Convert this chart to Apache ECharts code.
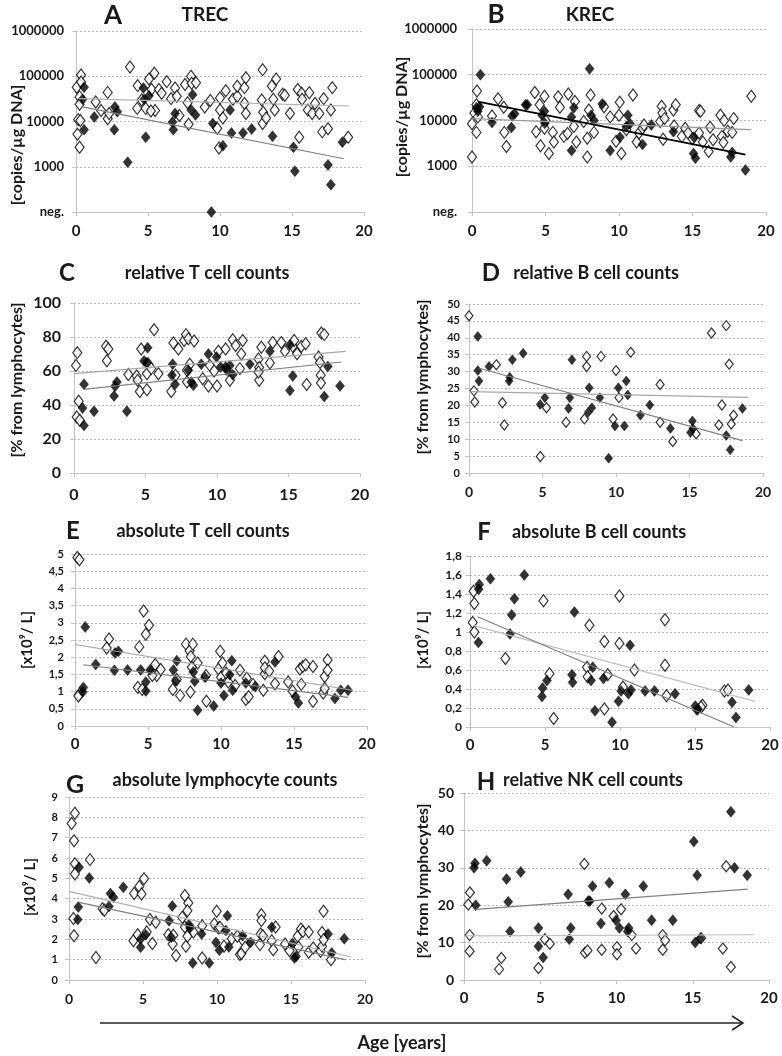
<!DOCTYPE html>
<html><head><meta charset="utf-8">
<script src="https://cdn.jsdelivr.net/npm/echarts@6/dist/echarts.min.js"></script>
<style>html,body{margin:0;padding:0;background:#fff}#c{width:782px;height:1056px}</style>
</head><body><div id="c"></div><script>
// ---------- DATA ----------
const xTicks = [0, 5, 10, 15, 20];
const negLabel = 'neg.';
const panelLetters = ['A','B','C','D','E','F','G','H'];
const panelTitles = ['TREC','KREC','relative T cell counts','relative B cell counts','absolute T cell counts','absolute B cell counts','absolute lymphocyte counts','relative NK cell counts'];
const yNames = ['[copies/µg DNA]','[copies/µg DNA]','[% from lymphocytes]','[% from lymphocytes]','[x10⁹/ L]','[x10⁹/ L]','[x10⁹/ L]','[% from lymphocytes]'];
const xAxisTitle = 'Age [years]';

// A: TREC (copies/µg DNA), 100 = "neg."
const openA = [[0.1,5200],[0.35,107000],[0.05,57000],[0.35,75000],[0.25,35000],[0.25,24000],[0.15,11000],[0.3,10500],[0.25,2700],[1.37,27000],[1.74,17500],[2.2,44000],[2.2,11500],[2.3,15000],[3.75,160000],[4.28,62000],[4.25,19500],[4.56,30000],[4.84,19500],[5.07,87000],[5.25,51000],[5.44,117000],[5.49,17500],[5.2,17000],[5.76,51000],[5.95,42000],[6.3,76000],[6.6,32000],[6.88,55000],[7.0,36000],[7.18,13500],[7.57,66000],[7.75,26000],[7.82,8700],[7.99,100000],[8.03,70000],[8.33,72000],[8.94,21000],[9.33,29000],[9.81,7100],[9.93,2600],[10.0,33000],[10.0,18000],[10.2,12000],[10.4,48000],[10.9,31000],[11.2,36000],[11.2,60000],[11.7,56000],[11.7,25000],[11.8,93000],[11.8,15000],[12.9,30000],[12.96,140000],[12.96,9000],[13.0,16000],[13.2,12000],[13.6,61000],[13.7,31000],[13.8,18000],[13.9,87000],[14.35,40000],[14.5,38000],[14.86,15000],[15.4,51000],[15.5,4500],[15.67,42000],[15.7,31000],[16.1,18000],[16.2,43000],[16.4,15000],[16.6,25000],[16.9,15000],[17.2,32000],[17.1,5900],[17.5,6900],[17.7,18000],[17.8,56000],[18.9,4500]];
const filledA = [[0.56,57000],[0.46,31000],[0.56,6600],[1.27,12500],[2.7,21000],[2.87,16500],[2.66,6600],[3.59,1260],[4.74,31000],[5.07,37000],[4.84,4500],[4.68,55000],[6.7,9700],[6.88,15000],[6.76,6600],[8.1,39000],[8.0,18000],[8.3,14000],[9.5,9000],[9.4,100],[10.2,2900],[10.7,18000],[10.8,5600],[11.6,5600],[12.2,6800],[13.65,4700],[15.1,2700],[15.2,800],[17.5,1100],[17.7,400],[18.5,3500]];
const trendOpenA = [[0.2,32000],[19,22000]];
const trendFilledA = [[0.46,21000],[18.6,1500]];

// B: KREC
const openB = [[0.0,1600],[0.0,8500],[0.16,14500],[0.3,5500],[0.34,44000],[0.4,12000],[0.3,22000],[1.36,12500],[1.77,30000],[2.16,19500],[2.2,5500],[2.34,2700],[4.27,41000],[4.36,5700],[4.6,22000],[4.66,2800],[4.93,34000],[5.0,10000],[4.93,6800],[5.23,1900],[5.5,5500],[5.57,3400],[5.86,33000],[5.98,19500],[6.25,4500],[6.55,38000],[6.5,5200],[6.93,7400],[7.0,26000],[7.1,3400],[7.84,1600],[7.84,4100],[7.95,17000],[8.07,36000],[7.6,9500],[8.3,5500],[8.98,20000],[9.4,12000],[9.8,3500],[10.0,13000],[10.05,25000],[10.16,1900],[10.5,6300],[10.95,36000],[11.2,3400],[11.36,5300],[11.6,6800],[11.7,8000],[12.8,9500],[12.9,20500],[12.95,14500],[13.0,3900],[13.1,11000],[13.7,17000],[13.86,22000],[13.75,7600],[14.27,4500],[14.5,6800],[14.7,5300],[15.0,4000],[15.45,16500],[15.55,16000],[15.45,5300],[15.7,3400],[16.1,2100],[16.2,7100],[16.4,3800],[16.9,13000],[17.0,4500],[17.1,3300],[17.15,10000],[17.4,5800],[17.7,5500],[17.8,11000],[19.0,34000]];
const filledB = [[0.57,100000],[0.52,20000],[0.4,16000],[0.3,19000],[1.36,9000],[2.73,12500],[2.9,14000],[2.68,7000],[3.64,22000],[3.76,22000],[4.77,13000],[4.93,16000],[4.95,8700],[6.93,19000],[6.77,12000],[6.77,2200],[8.0,135000],[8.1,13000],[8.3,10000],[8.86,23000],[9.4,2200],[10.07,4300],[10.6,13000],[10.5,7400],[10.75,8500],[11.6,3000],[12.2,8000],[13.7,5700],[15.1,4300],[15.07,1900],[15.2,1500],[17.6,1600],[17.7,2000],[18.6,830]];
const trendOpenB = [[0,11000],[19,6300]];
const trendFilledB = [[0.4,26000],[18.6,1800]];

// C: relative T cells (%)
const openC = [[0.23,70.8],[0.14,63.3],[0.33,42.2],[0.19,33],[0.4,31],[2.24,74.5],[2.4,73],[2.3,66],[3.8,58],[4.38,57],[4.45,54.5],[4.6,48],[4.7,73],[5.1,49],[5.2,64],[5.1,58.4],[5.6,84.3],[5.4,61.4],[5.9,58.4],[6.8,48],[6.95,76.5],[7.1,57.5],[7.3,73],[7.7,78],[7.83,81.4],[8.0,79],[8.1,64],[8.4,77.6],[7.9,60.4],[7.9,53.5],[9.0,55.5],[9.4,51.2],[9.5,63.3],[10.0,51.2],[9.8,60],[10.1,71.6],[10.6,73],[10.9,54.5],[11.1,78.4],[11.3,75],[11.8,78],[11.7,70],[11.6,61.4],[12.9,67],[12.95,62],[12.95,54.5],[13.1,74],[12.9,59.4],[13.7,64.7],[13.9,76.7],[14.5,76.7],[14.75,71.6],[15.3,74.5],[15.4,78],[15.6,70.2],[15.9,74.5],[16.2,76],[16.27,52],[17.1,68.2],[17.2,65],[17.25,57.5],[17.27,53],[17.3,82.4],[17.5,81.4]];
const filledC = [[0.7,52.2],[0.6,38.2],[1.4,36.3],[2.87,51],[3.0,53.5],[2.8,45.3],[3.7,36.3],[0.7,28],[5.15,73.7],[4.9,65.9],[5.1,65],[6.9,64],[6.85,57.5],[7.07,52.2],[8.0,60.4],[8.2,53.5],[8.35,51.6],[8.9,64],[9.4,70],[9.97,68.2],[10.25,62.3],[10.6,62.3],[10.9,63.3],[10.7,60.4],[11.1,57.8],[12.3,64],[13.7,71.6],[15.1,75.5],[15.3,57],[15.1,48.6],[17.75,62.7],[17.5,45],[18.6,51.2]];
const trendOpenC = [[0,58.4],[19,71.6]];
const trendFilledC = [[0.65,49.2],[18.7,65.3]];

// D: relative B cells (%)
const openD = [[0,46.5],[0.34,24.3],[0.39,21],[1.86,32],[2.27,20.8],[5.27,19.3],[8.0,34.5],[8.0,31.5],[8.98,34.5],[10.0,30.3],[10.2,22.3],[11.0,35.7],[13.0,26.2],[16.5,41.4],[17.5,43.6],[17.7,32.2],[17.2,20.1],[18.0,17.1],[2.4,14.2],[4.85,4.9],[6.6,15],[7.85,16],[9.8,16],[13.0,15],[13.86,9.3],[15.45,11.6],[17.0,14.2],[17.84,14.5]];
const filledD = [[0.6,40.4],[0.6,30.3],[0.68,27.2],[1.36,31.5],[2.73,27.2],[2.77,28.3],[2.95,33.5],[3.68,35.4],[4.84,20.3],[5.16,22.3],[6.86,22.3],[6.77,19.1],[7.0,33.5],[8.18,25.2],[8.1,17.9],[8.36,19.3],[8.9,22.3],[10.16,25.2],[10.7,27.2],[10.8,23.1],[11.66,17.1],[12.3,20.1],[15.2,15.4],[18.6,19.1],[9.93,13.9],[10.57,13.9],[9.5,4.4],[13.7,13.2],[15.23,13.2],[15.07,12],[17.5,11.1],[17.77,6.9]];
const trendOpenD = [[0.1,24.1],[19,22.4]];
const trendFilledD = [[0.7,31],[18.6,9.6]];

// E: absolute T cells (x10^9/L)
const openE = [[0.16,4.9],[0.3,4.83],[4.7,3.34],[5.07,2.93],[0.3,0.92],[0.23,0.87],[2.33,2.53],[2.17,2.27],[4.4,2.3],[4.3,1.12],[4.6,1.06],[4.85,2.67],[5.37,1.62],[5.49,1.79],[5.6,1.47],[5.87,1.64],[5.3,1.47],[6.7,1.06],[6.97,1.35],[7.2,0.89],[7.6,2.38],[7.85,2.19],[7.93,2.02],[8.07,2.38],[7.9,0.99],[8.4,1.83],[8.0,1.71],[9.0,0.72],[8.97,1.47],[9.83,1.66],[9.94,2.17],[10.0,1.42],[10.1,1.83],[10.35,1.54],[10.5,1.28],[10.97,1.18],[11.3,1.62],[11.7,0.77],[11.9,0.85],[11.77,1.39],[12.2,1.21],[12.9,1.04],[13.0,1.52],[13.0,1.88],[13.0,1.69],[13.3,1.6],[13.7,1.23],[13.94,2.02],[14.6,1.28],[14.9,1.02],[15.4,1.66],[15.5,1.21],[15.6,1.73],[15.8,1.78],[16.3,0.72],[16.3,1.73],[17.0,0.96],[17.1,1.44],[17.3,1.92],[17.3,1.62],[17.1,1.09]];
const filledE = [[0.7,2.88],[0.57,1.12],[0.53,0.99],[1.42,1.79],[2.74,2.12],[2.97,2.17],[2.7,1.62],[3.6,1.63],[4.5,1.63],[4.85,1.02],[4.85,1.28],[5.14,1.63],[6.74,1.63],[6.97,1.9],[6.9,1.31],[8.1,1.57],[8.2,1.3],[8.4,0.46],[8.9,1.42],[9.5,0.58],[10.0,1.25],[10.2,0.89],[10.6,1.49],[10.74,1.9],[10.8,1.04],[11.7,1.25],[12.34,1.15],[13.7,1.86],[15.1,0.85],[15.3,0.67],[17.8,0.8],[18.2,1.04],[18.7,1.04]];
const trendOpenE = [[0,2.37],[19,1.04]];
const trendFilledE = [[0.57,1.78],[18.7,0.83]];

// F: absolute B cells (x10^9/L)
const openF = [[0.24,1.43],[0.29,1.3],[0.18,1.1],[4.9,1.33],[9.96,1.38],[7.96,1.07],[13.0,1.13],[0.29,1.0],[2.36,0.72],[5.3,0.56],[5.58,0.09],[7.8,0.63],[7.84,0.53],[8.96,0.9],[8.96,0.19],[9.18,0.55],[9.96,0.88],[10.2,0.42],[10.96,0.6],[13.0,0.65],[13.1,0.33],[15.5,0.23],[15.4,0.21],[16.96,0.38],[17.2,0.39]];
const filledF = [[0.62,1.5],[0.58,1.45],[1.36,1.56],[3.62,1.6],[2.96,1.35],[2.78,1.18],[6.96,1.21],[0.56,0.89],[2.67,0.98],[4.84,0.41],[4.8,0.32],[5.13,0.49],[6.8,0.55],[6.84,0.47],[8.18,0.63],[8.07,0.49],[8.33,0.17],[8.9,0.51],[9.47,0.05],[9.9,0.27],[10.07,0.38],[10.67,0.86],[10.56,0.35],[10.73,0.39],[11.67,0.38],[12.3,0.38],[13.67,0.35],[15.02,0.22],[15.13,0.18],[15.2,0.19],[17.47,0.26],[17.73,0.1],[18.58,0.39]];
const trendOpenF = [[0.2,1.07],[19,0.27]];
const trendFilledF = [[0.5,1.16],[17.6,0.0]];

// G: absolute lymphocytes (x10^9/L)
const openG = [[0.4,8.2],[0.18,7.7],[0.34,6.85],[0.4,5.72],[0.4,5.21],[1.42,5.92],[0.3,3.02],[0.34,2.18],[1.82,1.11],[2.27,3.5],[2.39,3.43],[4.35,1.93],[4.4,4.25],[4.64,2.23],[4.75,4.6],[4.9,4.23],[5.07,4.98],[5.25,2.36],[5.47,2.97],[5.63,1.79],[5.86,2.84],[6.71,2.23],[7.0,1.77],[7.05,2.2],[7.23,1.21],[7.65,3.08],[7.83,4.16],[8.06,3.79],[8.0,3.41],[7.83,2.61],[7.9,1.66],[8.0,2.15],[8.4,2.36],[9.0,2.67],[9.0,1.08],[9.82,2.75],[9.98,3.38],[10.1,2.56],[10.2,2.59],[10.47,1.66],[11.0,2.03],[11.37,2.15],[11.55,1.25],[11.65,1.3],[11.78,1.93],[11.9,1.61],[13.0,3.21],[13.0,2.93],[12.95,2.26],[13.1,2.18],[12.9,1.74],[13.7,1.93],[13.8,1.49],[13.96,2.61],[14.6,1.77],[14.9,1.44],[15.5,1.62],[15.45,2.15],[15.67,2.51],[15.8,2.39],[16.2,2.36],[16.2,1.36],[16.5,1.57],[17.0,1.41],[17.1,1.66],[17.1,2.34],[17.2,3.38],[17.2,1.98],[17.7,1.0]];
const filledG = [[0.68,5.54],[0.63,3.59],[0.59,2.97],[1.37,5.02],[2.7,3.62],[2.8,4.25],[3.0,4.07],[3.67,4.56],[4.84,1.61],[4.84,2.02],[5.18,2.23],[6.76,2.92],[6.9,2.1],[6.98,3.64],[8.1,2.72],[8.17,2.56],[8.36,0.84],[8.96,2.26],[9.48,0.84],[9.93,1.85],[10.16,1.46],[10.6,2.43],[10.7,3.16],[10.8,1.62],[11.73,2.18],[12.27,1.85],[13.7,2.59],[15.1,1.79],[15.23,1.08],[15.34,1.16],[17.5,2.26],[17.75,1.33],[18.6,2.03]];
const trendOpenG = [[0,4.36],[19.05,1.13]];
const trendFilledG = [[0.68,3.82],[18.65,1.0]];

// H: relative NK cells (%)
const openH = [[0.39,23.4],[0.28,20.2],[0.37,12],[0.37,7.7],[2.3,2.9],[2.45,5.9],[4.88,3.2],[5.3,10.9],[5.63,9.7],[7.89,31],[7.93,7.3],[8.1,7.9],[9.03,19.1],[9.03,8.1],[9.81,17.1],[10.03,8.8],[10.03,6.9],[10.3,18.9],[11.0,12],[11.28,8.4],[13.03,12],[13.19,10.6],[13.03,8.1],[15.55,11.2],[16.97,8.4],[17.19,30.4],[17.5,3.5]];
const filledH = [[17.5,45],[15.07,37],[0.72,31.2],[0.66,30],[0.77,20],[1.49,31.9],[2.79,27],[2.9,20.9],[3.02,13],[3.72,28.9],[4.88,13.9],[4.88,9],[5.19,6],[6.83,22.9],[7.0,13.9],[6.9,10.9],[8.15,21.1],[8.25,21.1],[8.43,25.1],[8.98,15.1],[9.53,26],[9.97,16],[10.19,13.9],[10.58,22.9],[10.8,13.9],[10.73,13],[11.76,25.1],[12.3,16],[13.69,16],[15.16,10],[15.29,28],[15.5,11.1],[17.74,30],[18.57,28]];
const trendOpenH = [[0.1,11.8],[19,12.1]];
const trendFilledH = [[0.77,18.9],[18.6,24.3]];

// ---------- LAYOUT / STYLE ----------
const FONT = 'Lato, "Open Sans", sans-serif';
const TXT = '#1a1a1a';
const AXC = '#c4c4c4';
const commaFmt = v => String(Math.round(v * 10) / 10).replace('.', ',');
const logFmt = v => { const r = Math.round(v); return r <= 100 ? negLabel : String(r); };

const panels = [
  {grid:{left:76,top:31,width:288,height:181}, y:{type:'log',logBase:10,min:100,max:1000000}, fmt:logFmt, yFs:13, yM:12, xFs:15, xM:12,
   open:openA, filled:filledA, tO:trendOpenA, tF:trendFilledA, oS:[9,12], fS:[9,11], tOc:'#b0b0b0', tFc:'#808080', tFw:1.2},
  {grid:{left:472,top:29,width:294,height:183}, y:{type:'log',logBase:10,min:100,max:1000000}, fmt:logFmt, yFs:13, yM:15, xFs:15, xM:12,
   open:openB, filled:filledB, tO:trendOpenB, tF:trendFilledB, oS:[9,12], fS:[9,11], tOc:'#9a9a9a', tFc:'#000', tFw:1.8},
  {grid:{left:74,top:303,width:286,height:170}, y:{type:'value',min:0,max:100,interval:20}, fmt:v=>String(v), yFs:16, yM:13, xFs:16, xM:14,
   open:openC, filled:filledC, tO:trendOpenC, tF:trendFilledC, oS:[9,12], fS:[9,11], tOc:'#a8a8a8', tFc:'#808080', tFw:1.2},
  {grid:{left:469,top:304,width:294,height:169}, y:{type:'value',min:0,max:50,interval:5}, fmt:v=>String(v), yFs:11, yM:9, xFs:14, xM:12,
   open:openD, filled:filledD, tO:trendOpenD, tF:trendFilledD, oS:[8,10], fS:[8,10], tOc:'#a8a8a8', tFc:'#808080', tFw:1.2},
  {grid:{left:75,top:554,width:292,height:172}, y:{type:'value',min:0,max:5,interval:0.5}, fmt:commaFmt, yFs:11, yM:11, xFs:15, xM:11,
   open:openE, filled:filledE, tO:trendOpenE, tF:trendFilledE, oS:[9,12], fS:[9,11], tOc:'#a0a0a0', tFc:'#808080', tFw:1.2},
  {grid:{left:470,top:556,width:300,height:171}, y:{type:'value',min:0,max:1.8,interval:0.2}, fmt:commaFmt, yFs:12, yM:8, xFs:15, xM:11,
   open:openF, filled:filledF, tO:trendOpenF, tF:trendFilledF, oS:[9,12], fS:[9,11], tOc:'#c0c0c0', tFc:'#808080', tFw:1.2},
  {grid:{left:69,top:797,width:296,height:183}, y:{type:'value',min:0,max:9,interval:1}, fmt:v=>String(v), yFs:11, yM:11, xFs:14, xM:12,
   open:openG, filled:filledG, tO:trendOpenG, tF:trendFilledG, oS:[9,12], fS:[9,11], tOc:'#b0b0b0', tFc:'#808080', tFw:1.2},
  {grid:{left:464,top:793,width:305,height:187}, y:{type:'value',min:0,max:50,interval:10}, fmt:v=>String(v), yFs:14, yM:10, xFs:15, xM:11,
   open:openH, filled:filledH, tO:trendOpenH, tF:trendFilledH, oS:[9,11], fS:[9,11], tOc:'#c0c0c0', tFc:'#808080', tFw:1.2}
];

const grids = [], xAxes = [], yAxes = [], series = [];
panels.forEach((p, i) => {
  grids.push(Object.assign({containLabel:false}, p.grid));
  xAxes.push({gridIndex:i, type:'value', min:xTicks[0], max:xTicks[xTicks.length-1], interval:xTicks[1]-xTicks[0],
    axisLine:{show:true, onZero:false, lineStyle:{color:AXC, width:1}},
    axisTick:{show:true, length:4, lineStyle:{color:AXC}},
    splitLine:{show:false},
    axisLabel:{fontSize:p.xFs, fontWeight:'bold', color:TXT, fontFamily:FONT, margin:p.xM}});
  yAxes.push(Object.assign({gridIndex:i,
    axisLine:{show:true, lineStyle:{color:AXC, width:1}},
    axisTick:{show:true, length:4, lineStyle:{color:AXC}},
    splitLine:{show:true, lineStyle:{type:[2,2], color:'#b8b8b8', width:1}},
    axisLabel:{fontSize:p.yFs, fontWeight:'bold', color:TXT, fontFamily:FONT, margin:p.yM, formatter:p.fmt}}, p.y));
  series.push({type:'scatter', xAxisIndex:i, yAxisIndex:i, data:p.open, symbol:'diamond', symbolSize:p.oS,
    itemStyle:{color:'#fff', borderColor:'#000', borderWidth:1.2}, z:2});
  series.push({type:'scatter', xAxisIndex:i, yAxisIndex:i, data:p.filled, symbol:'diamond', symbolSize:p.fS,
    itemStyle:{color:'#000', borderColor:'#000', borderWidth:0.5}, z:3});
  series.push({type:'line', xAxisIndex:i, yAxisIndex:i, data:p.tO, symbol:'none', silent:true,
    lineStyle:{color:p.tOc, width:1.2}, z:4});
  series.push({type:'line', xAxisIndex:i, yAxisIndex:i, data:p.tF, symbol:'none', silent:true,
    lineStyle:{color:p.tFc, width:p.tFw}, z:5});
});

function txt(s, x, y, size, rot, align) {
  return {type:'text', x:x, y:y, rotation:rot||0, silent:true,
    style:{text:s, fill:TXT, font:'bold '+size+'px '+FONT, fontSize:size, fontWeight:'bold', fontFamily:FONT,
      textAlign:align||'center', textVerticalAlign:'middle', align:align||'center', verticalAlign:'middle'}};
}
const letterPos = [[113,16,26],[496,15,26],[67,273,24],[491,273,24],[73,531,24],[484,532,24],[75,785,25],[486,782,24]];
const titlePos = [[205,15,19],[590,15,19],[207,273,18],[596,273,18],[203,531,18],[599,532,18],[225,780,18],[593,780,18]];
const namePos = [[17,145,16],[402,117,16],[17,380,16],[423,377,16],[27,640,15],[423,640,15],[30,887,15],[423,881,16]];
const graphic = [];
panels.forEach((p, i) => {
  graphic.push(txt(panelLetters[i], letterPos[i][0], letterPos[i][1], letterPos[i][2]));
  graphic.push(txt(panelTitles[i], titlePos[i][0], titlePos[i][1], titlePos[i][2]));
  graphic.push(txt(yNames[i], namePos[i][0], namePos[i][1], namePos[i][2], Math.PI/2));
});
graphic.push({type:'line', silent:true, shape:{x1:100,y1:1023,x2:743,y2:1023}, style:{stroke:'#222', lineWidth:1.5}});
graphic.push({type:'polyline', silent:true, shape:{points:[[732,1016],[743,1023],[732,1030]]}, style:{stroke:'#222', lineWidth:1.5, fill:null}});
graphic.push(txt(xAxisTitle, 402, 1043, 18));

const chart = echarts.init(document.getElementById('c'), null, {renderer:'canvas'});
chart.setOption({animation:false, backgroundColor:'#fff', grid:grids, xAxis:xAxes, yAxis:yAxes, series:series, graphic:graphic});
</script></body></html>
